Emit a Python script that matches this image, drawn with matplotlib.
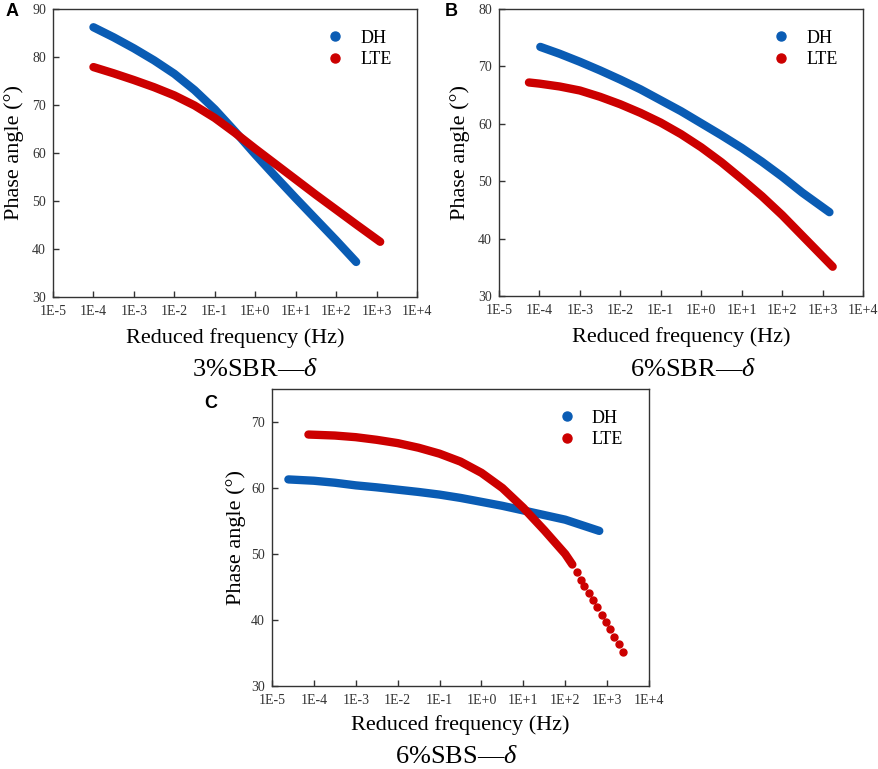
import matplotlib
matplotlib.use("Agg")
import matplotlib.pyplot as plt
from matplotlib.lines import Line2D

plt.rcParams['font.family'] = ['Liberation Serif', 'DejaVu Serif']
plt.rcParams['mathtext.fontset'] = 'custom'
plt.rcParams['mathtext.rm'] = 'Liberation Serif'
plt.rcParams['mathtext.it'] = 'Liberation Serif:italic'

# --- donnees (frequence reduite en Hz, angle de phase en degres)
# panneau A : 3%SBR
a_dh_x = [1e-4, 3.16e-4, 1e-3, 3.16e-3, 1e-2, 3.16e-2, 1e-1, 3.16e-1, 1, 3.16, 10, 31.6, 100, 313]
a_dh_y = [86.2, 84.1, 81.8, 79.3, 76.5, 73.1, 69.1, 64.5, 59.7, 55.1, 50.6, 46.2, 41.8, 37.3]
a_lte_x = [1e-4, 3.16e-4, 1e-3, 3.16e-3, 1e-2, 3.16e-2, 1e-1, 3.16e-1, 1, 3.16, 10, 31.6, 100, 316, 1230]
a_lte_y = [77.9, 76.6, 75.2, 73.7, 72.0, 69.9, 67.3, 64.2, 60.9, 57.7, 54.5, 51.3, 48.2, 45.1, 41.5]

# panneau B : 6%SBR
b_dh_x = [1.05e-4, 3.16e-4, 1e-3, 3.16e-3, 1e-2, 3.16e-2, 1e-1, 3.16e-1, 1, 3.16, 10, 31.6, 100, 316, 1480]
b_dh_y = [73.4, 72.2, 70.8, 69.3, 67.7, 66.0, 64.1, 62.2, 60.1, 58.0, 55.8, 53.4, 50.8, 48.0, 44.6]
b_lte_x = [5.5e-5, 1e-4, 3.16e-4, 1e-3, 3.16e-3, 1e-2, 3.16e-2, 1e-1, 3.16e-1, 1, 3.16, 10, 31.6, 100, 316, 1780]
b_lte_y = [67.2, 67.0, 66.5, 65.8, 64.7, 63.4, 61.9, 60.2, 58.2, 55.9, 53.3, 50.4, 47.4, 44.1, 40.5, 35.1]

# panneau C : 6%SBS
c_dh_x = [2.46e-5, 1e-4, 3.16e-4, 1e-3, 3.16e-3, 1e-2, 3.16e-2, 1e-1, 3.16e-1, 1, 3.16, 10, 31.6, 100, 650]
c_dh_y = [61.3, 61.1, 60.8, 60.4, 60.1, 59.75, 59.4, 59.0, 58.5, 57.9, 57.3, 56.6, 55.9, 55.2, 53.5]
c_lte_x = [7.4e-5, 3.16e-4, 1e-3, 3.16e-3, 1e-2, 3.16e-2, 1e-1, 3.16e-1, 1, 3.16, 10, 31.6, 100, 148]
c_lte_y = [68.1, 67.95, 67.7, 67.3, 66.8, 66.1, 65.2, 64.0, 62.3, 60.0, 57.0, 53.6, 50.0, 48.4]
# derniers points isoles (haute frequence)
c_lte_dots_x = [189, 236, 288, 372, 457, 589, 748, 948, 1202, 1500, 1905, 2400]
c_lte_dots_y = [47.2, 46.1, 45.1, 44.1, 43.0, 41.9, 40.7, 39.7, 38.6, 37.4, 36.3, 35.1]

tick_vals = [1e-5, 1e-4, 1e-3, 1e-2, 1e-1, 1e0, 1e1, 1e2, 1e3, 1e4]
tick_labs = ["1E-5", "1E-4", "1E-3", "1E-2", "1E-1", "1E+0", "1E+1", "1E+2", "1E+3", "1E+4"]

BLUE = '#0a5cb4'
RED = '#cc0000'
W, H = 879, 769

fig = plt.figure(figsize=(W / 100, H / 100), dpi=100)


def make_axes(left, top, right, bottom):
    # coordonnees en pixels -> fractions de figure
    return fig.add_axes([left / W, 1 - bottom / H, (right - left) / W, (bottom - top) / H])


def style_axes(ax, ylim, yticks):
    ax.set_xscale('log')
    ax.set_xlim(1e-5, 1e4)
    ax.set_ylim(*ylim)
    ax.set_xticks(tick_vals)
    ax.set_xticklabels(tick_labs)
    ax.minorticks_off()
    ax.set_yticks(yticks)
    ax.tick_params(direction='in', length=4, width=1, labelsize=10, colors='#333333')
    ax.tick_params(axis='x', pad=6)
    ax.tick_params(axis='y', pad=5)
    for s in ax.spines.values():
        s.set_color('#333333')
        s.set_linewidth(1)
    ax.set_xlabel("Reduced frequency (Hz)", fontsize=16)
    ax.set_ylabel("Phase angle (°)", fontsize=16)
    handles = [Line2D([], [], ls='none', marker='o', ms=6.5, color=BLUE),
               Line2D([], [], ls='none', marker='o', ms=6.5, color=RED)]
    ax.legend(handles, ["DH", "LTE"], loc='upper right', frameon=False, fontsize=13,
              bbox_to_anchor=(0.975, 0.985), handletextpad=0.4, labelspacing=0.25)


def band(ax, x, y, color):
    ax.plot(x, y, '-', color=color, lw=6, solid_capstyle='round', solid_joinstyle='round')


# A
axA = make_axes(53, 9, 417, 297)
band(axA, a_dh_x, a_dh_y, BLUE)
band(axA, a_lte_x, a_lte_y, RED)
style_axes(axA, (30, 90), range(30, 91, 10))
axA.yaxis.set_label_coords(-0.08, 0.5)
axA.xaxis.set_label_coords(0.5, -0.108)

# B
axB = make_axes(499, 9, 863, 296)
band(axB, b_dh_x, b_dh_y, BLUE)
band(axB, b_lte_x, b_lte_y, RED)
style_axes(axB, (30, 80), range(30, 81, 10))
axB.yaxis.set_label_coords(-0.08, 0.5)
axB.xaxis.set_label_coords(0.5, -0.108)

# C
axC = make_axes(272, 389, 649, 686)
band(axC, c_dh_x, c_dh_y, BLUE)
band(axC, c_lte_x, c_lte_y, RED)
axC.plot(c_lte_dots_x, c_lte_dots_y, 'o', color=RED, ms=5)
style_axes(axC, (30, 75), range(30, 71, 10))
axC.yaxis.set_label_coords(-0.07, 0.5)
axC.xaxis.set_label_coords(0.5, -0.098)

# titres sous chaque graphe
fig.text(255 / W, 1 - 370 / H, "3%SBR—$\\delta$", ha='center', va='center', fontsize=19)
fig.text(693 / W, 1 - 370 / H, "6%SBR—$\\delta$", ha='center', va='center', fontsize=19)
fig.text(457 / W, 1 - 757 / H, "6%SBS—$\\delta$", ha='center', va='center', fontsize=19)

# lettres des panneaux
for lab, px, py in [("A", 12, 12), ("B", 451, 12), ("C", 211, 404)]:
    fig.text(px / W, 1 - py / H, lab, ha='center', va='center', fontsize=13,
             fontweight='bold', family='Liberation Sans')

fig.savefig("out.png", dpi=100)
